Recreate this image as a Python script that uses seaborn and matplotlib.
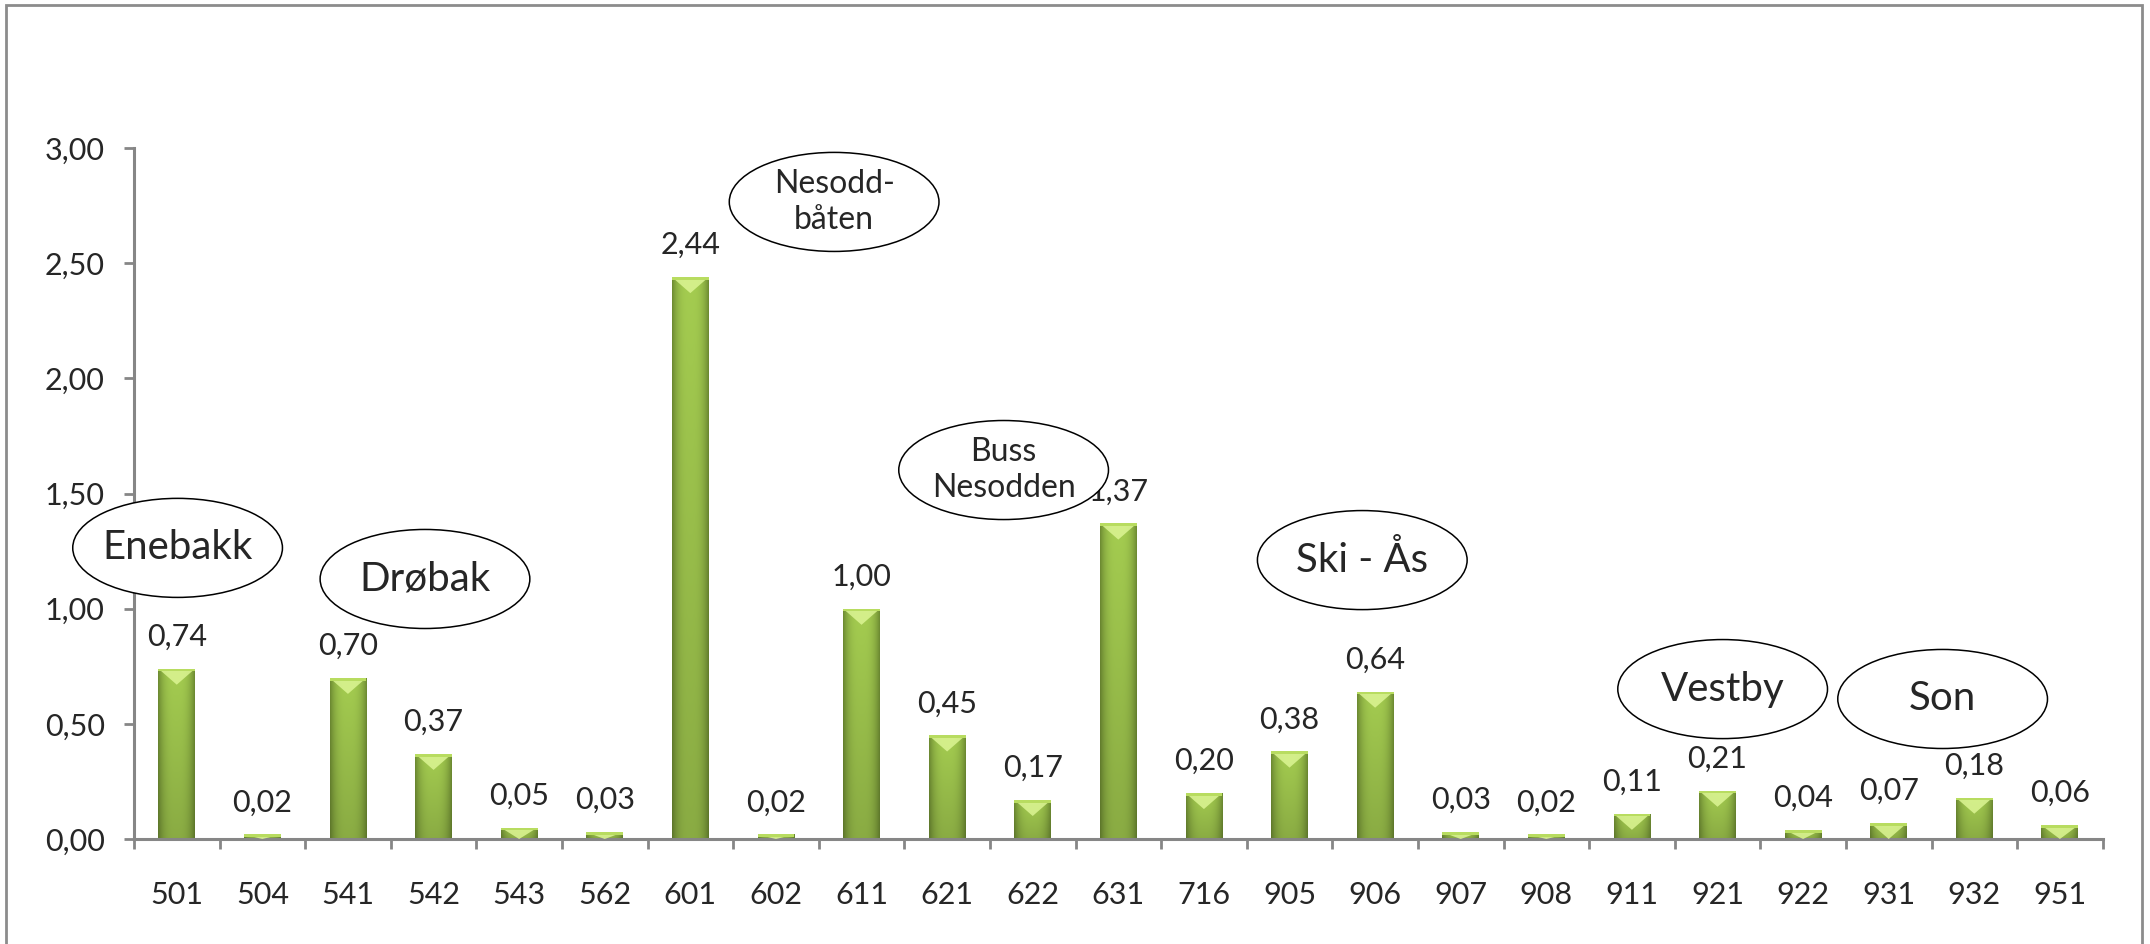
import numpy as np
import matplotlib
matplotlib.use("Agg")
from matplotlib import pyplot as plt
from matplotlib.patches import Ellipse, Rectangle, Polygon
from matplotlib.colors import to_rgb
import seaborn as sns

sns.set_style("white")
plt.rcParams['font.family'] = ['Lato', 'DejaVu Sans']

# data
routes = ['501', '504', '541', '542', '543', '562', '601', '602', '611', '621', '622',
          '631', '716', '905', '906', '907', '908', '911', '921', '922', '931', '932', '951']
values = [0.74, 0.02, 0.70, 0.37, 0.05, 0.03, 2.44, 0.02, 1.00, 0.45, 0.17,
          1.37, 0.20, 0.38, 0.64, 0.03, 0.02, 0.11, 0.21, 0.04, 0.07, 0.18, 0.06]
yticks = [0.0, 0.5, 1.0, 1.5, 2.0, 2.5, 3.0]

# area callouts (text, centre x in category units, centre y in value units)
areas = ['Enebakk', 'Drøbak', 'Nesodd-\nbåten', 'Buss\nNesodden', 'Ski - Ås', 'Vestby', 'Son']
area_x = [0.01, 2.9, 7.68, 9.66, 13.85, 18.06, 20.63]
area_y = [1.264, 1.129, 2.766, 1.602, 1.211, 0.651, 0.608]
area_big = [True, True, False, False, True, True, True]

grey = '#868686'

fig = plt.figure(figsize=(21.5, 9.44), dpi=100)
ax = fig.add_axes([0.0623, 0.1112, 0.978 - 0.0623, 0.8432 - 0.1112])

sns.barplot(x=routes, y=values, color='#9bc24a', width=0.43, ax=ax, saturation=1)

# glossy green look for each bar
edge = np.array(to_rgb('#6f8d33'))
mid = np.array(to_rgb('#a4cc50'))
xs = np.linspace(-1, 1, 40)
prof = np.clip(np.abs(xs) ** 3, 0, 1)
row = mid[None, :] * (1 - prof[:, None]) + edge[None, :] * prof[:, None]
vert = np.linspace(0.84, 1.0, 60)[:, None, None]
grad = np.clip(row[None, :, :] * vert, 0, 1)
for p in ax.patches:
    x0, y0 = p.get_x(), p.get_y()
    w, h = p.get_width(), p.get_height()
    p.set_facecolor('none')
    p.set_edgecolor('none')
    im = ax.imshow(grad, extent=(x0, x0 + w, y0, y0 + h), origin='lower',
                   aspect='auto', zorder=2, interpolation='bilinear')
    im.set_clip_path(p)
    depth = min(0.07, h)
    tri = Polygon([(x0, y0 + h), (x0 + w, y0 + h), (x0 + w / 2, y0 + h - depth)],
                  closed=True, facecolor='#dcf594', edgecolor='none', alpha=0.85, zorder=3)
    ax.add_patch(tri)
    tri.set_clip_path(p)
    strip = Rectangle((x0, y0 + h - min(0.012, h)), w, min(0.012, h),
                      facecolor='#b8dc60', edgecolor='none', zorder=3)
    ax.add_patch(strip)

# value labels
for i, v in enumerate(values):
    ax.annotate(f"{v:.2f}".replace('.', ','), (i, v), xytext=(0, 23),
                textcoords='offset points', ha='center', va='center', fontsize=22)

ax.set_xlim(-0.5, len(routes) - 0.5)
ax.set_ylim(0, 3.0)
ax.set_yticks(yticks)
ax.set_yticklabels([f"{t:.2f}".replace('.', ',') for t in yticks], fontsize=22)
ax.tick_params(axis='y', direction='out', length=7, width=2, color=grey, pad=14, left=True)
ax.tick_params(axis='x', which='major', length=0, pad=30, labelsize=22)
ax.set_xticks(np.arange(-0.5, len(routes)), minor=True)
ax.tick_params(axis='x', which='minor', direction='out', length=7, width=2, color=grey, bottom=True)
for s in ['top', 'right']:
    ax.spines[s].set_visible(False)
for s in ['left', 'bottom']:
    ax.spines[s].set_color(grey)
    ax.spines[s].set_linewidth(2.2)
ax.set_xlabel('')
ax.set_ylabel('')

# callout ellipses
for name, cx, cy, big in zip(areas, area_x, area_y, area_big):
    ax.add_patch(Ellipse((cx, cy), 2.45, 0.43, facecolor='white', edgecolor='black',
                         lw=1.1, zorder=5, clip_on=False))
    ax.text(cx, cy, name, ha='center', va='center', fontsize=29 if big else 23,
            linespacing=1.25, zorder=6)

# outer frame
fig.patches.append(Rectangle((6 / 2150, -0.05), (2142 - 6) / 2150, 1.05 - 5 / 944,
                             transform=fig.transFigure, fill=False, edgecolor='#8c8c8c', lw=2))

fig.savefig('out.png', dpi=100)
